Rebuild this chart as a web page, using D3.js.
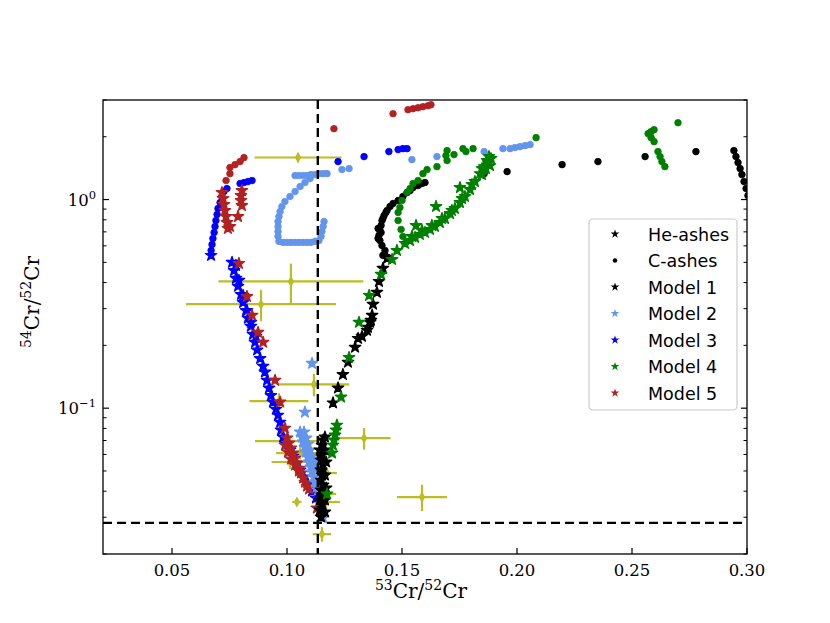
<!DOCTYPE html>
<html>
<head>
<meta charset="utf-8">
<script src="https://cdn.jsdelivr.net/npm/d3@7"></script>
<style>
  body { margin: 0; background: #fff; }
  svg { display: block; }
</style>
</head>
<body>
<script>
// Axis ticks
const xTicks = [0.05, 0.10, 0.15, 0.20, 0.25, 0.30];
const yMajorTicks = [0.1, 1];
const yMajorLabels = ["\u22121", "0"];

// Solar ratios (dashed reference lines)
const solar53 = 0.1134;
const solar54 = 0.0282;

// Model 1 (black)
const model1He = [
  [0.1148,0.0301],[0.1143,0.0325],[0.1152,0.0343],[0.1143,0.0363],[0.1152,0.0384],[0.1148,0.0405],
  [0.1157,0.0428],[0.1148,0.0452],[0.1152,0.0478],[0.1148,0.0505],[0.1157,0.0534],[0.1148,0.0564],
  [0.1152,0.0596],[0.1143,0.0630],[0.1152,0.0665],[0.1157,0.0703],[0.1165,0.0727],
  [0.1165,0.0318],[0.1165,0.0363],[0.1170,0.0414],[0.1165,0.0478],[0.1170,0.0552],[0.1165,0.0630],
  [0.1200,0.106],[0.1222,0.125],[0.1243,0.145],[0.1265,0.166],[0.1296,0.196],[0.1309,0.216],
  [0.1326,0.221],[0.1348,0.236],[0.1352,0.244],[0.1361,0.258],[0.1365,0.264],[0.1370,0.279],
  [0.1374,0.315],[0.1391,0.359],[0.1400,0.405],[0.1417,0.468],[0.1435,0.522]
];
const model1C = [
  [0.1439,0.528],[0.1426,0.570],[0.1417,0.540],[0.1413,0.602],[0.1404,0.636],[0.1396,0.651],
  [0.1400,0.673],[0.1409,0.695],[0.1404,0.711],[0.1396,0.727],[0.1409,0.751],[0.1413,0.793],
  [0.1417,0.811],[0.1422,0.838],[0.1430,0.867],[0.1435,0.886],[0.1448,0.926],[0.1461,0.957],
  [0.1483,0.989],[0.1504,1.034],[0.1522,1.080],[0.1535,1.104],[0.1548,1.141],[0.1570,1.167],
  [0.1587,1.193],[0.1600,1.206],[0.1857,1.331],[0.1957,1.361],[0.2196,1.470],[0.2352,1.520],
  [0.2557,1.606],[0.2778,1.697],[0.2943,1.716],[0.2952,1.606],[0.2961,1.503],[0.2970,1.407],
  [0.2978,1.317],[0.2987,1.219],[0.2996,1.129],[0.3004,1.045]
];

// Model 2 (light blue)
const model2He = [
  [0.1109,0.164],[0.1078,0.0957],
  [0.1057,0.0768],[0.1065,0.0727],[0.1070,0.0688],[0.1078,0.0651],[0.1083,0.0616],[0.1091,0.0583],
  [0.1096,0.0552],[0.1104,0.0522],[0.1109,0.0494],[0.1117,0.0468],[0.1122,0.0442],[0.1130,0.0419],
  [0.1135,0.0405],[0.1143,0.0363],[0.1148,0.0325],[0.1157,0.0298],
  [0.1074,0.0768],[0.1083,0.0719],[0.1091,0.0673],[0.1100,0.0630],[0.1109,0.0589],[0.1117,0.0552],
  [0.1126,0.0516]
];
const model2C = [
  [0.1035,1.303],[0.1052,1.303],[0.1070,1.303],[0.1087,1.303],[0.1104,1.317],[0.1122,1.317],
  [0.1139,1.331],[0.1157,1.331],[0.1174,1.331],
  [0.1100,1.260],[0.1078,1.206],[0.1057,1.154],[0.1035,1.092],[0.1013,1.034],[0.0991,0.978],[0.0978,0.926],
  [0.0970,0.876],[0.0965,0.829],[0.0961,0.785],[0.0961,0.743],[0.0961,0.703],[0.0961,0.665],[0.0965,0.630],
  [0.0983,0.623],[0.1000,0.623],[0.1017,0.623],[0.1035,0.623],[0.1052,0.623],[0.1070,0.623],
  [0.1087,0.623],[0.1104,0.623],[0.1122,0.630],[0.1139,0.636],
  [0.1148,0.665],[0.1152,0.703],[0.1157,0.743],[0.1161,0.785],
  [0.1239,1.392],[0.1270,1.407],[0.1543,1.553],[0.1652,1.606],[0.1857,1.697],[0.1939,1.754],
  [0.1970,1.754],[0.1991,1.774],[0.2013,1.793],[0.2035,1.813],[0.2057,1.833]
];

// Model 3 (blue)
const model3He = [
  [0.0670,0.540],
  [0.0761,0.500],[0.0770,0.457],[0.0778,0.419],[0.0787,0.384],[0.0800,0.351],[0.0809,0.321],
  [0.0822,0.294],[0.0830,0.270],[0.0843,0.247],[0.0852,0.226],[0.0861,0.207],[0.0870,0.190],
  [0.0883,0.173],[0.0896,0.159],[0.0904,0.149],[0.0913,0.136],[0.0922,0.125],[0.0930,0.115],
  [0.0939,0.107],[0.0952,0.0989],[0.0961,0.0926],[0.0970,0.0857],[0.0974,0.0785],[0.0983,0.0727],
  [0.0996,0.0673],[0.1013,0.0630],[0.1026,0.0589],[0.1039,0.0546],[0.1057,0.0505],[0.1074,0.0468],
  [0.1091,0.0433],[0.1109,0.0401],[0.1126,0.0371],
  [0.0778,0.483],[0.0791,0.410],[0.0809,0.347],[0.0826,0.294],[0.0843,0.258],[0.0865,0.221]
];
const model3C = [
  [0.0670,0.570],[0.0674,0.609],[0.0678,0.651],[0.0683,0.695],[0.0687,0.743],[0.0691,0.793],
  [0.0696,0.848],[0.0700,0.906],[0.0709,0.967],[0.0717,1.034],[0.0726,1.092],[0.0739,1.129],
  [0.0796,1.193],[0.0813,1.206],[0.0830,1.219],[0.0848,1.233],
  [0.1222,1.520],[0.1335,1.606],[0.1443,1.697],[0.1483,1.735],[0.1504,1.754],[0.1522,1.754]
];

// Model 4 (green)
const model4He = [
  [0.1174,0.0388],[0.1196,0.0609],[0.1200,0.0665],[0.1204,0.0703],[0.1209,0.0743],[0.1213,0.0785],
  [0.1217,0.0829],[0.1235,0.113],[0.1270,0.175],[0.1313,0.258],[0.1357,0.347],[0.1409,0.438],
  [0.1457,0.516],[0.1478,0.570],[0.1561,0.751],[0.1648,0.926],[0.1752,1.141],
  [0.1513,0.616],[0.1535,0.636],[0.1557,0.658],[0.1578,0.680],[0.1600,0.695],[0.1622,0.719],
  [0.1643,0.743],[0.1665,0.776],[0.1687,0.811],[0.1709,0.857],[0.1730,0.906],[0.1752,0.967],
  [0.1774,1.034],[0.1796,1.116],[0.1817,1.219],[0.1839,1.331],[0.1857,1.438],[0.1870,1.537],
  [0.1878,1.606],[0.1874,1.503],[0.1865,1.407],[0.1848,1.317],
  [0.1543,0.665],[0.1587,0.711],[0.1630,0.751],[0.1674,0.811],[0.1717,0.886],[0.1761,1.011],
  [0.1804,1.180],[0.1848,1.407],[0.1887,1.571],[0.1883,1.454]
];
const model4C = [
  [0.1513,0.616],[0.1504,0.665],[0.1496,0.719],[0.1483,0.793],[0.1483,0.867],[0.1491,0.916],
  [0.1500,0.989],[0.1522,1.080],[0.1535,1.129],[0.1548,1.193],[0.1570,1.233],[0.1591,1.331],
  [0.1609,1.392],[0.1652,1.438],[0.1696,1.537],[0.1691,1.624],[0.1696,1.716],[0.1726,1.642],
  [0.1765,1.754],[0.1778,1.697],[0.1809,1.754],[0.2083,1.980],
  [0.2570,2.069],[0.2583,2.115],[0.2596,2.162],[0.2583,1.980],[0.2596,1.894],
  [0.2613,1.697],[0.2622,1.606],[0.2630,1.520],[0.2643,1.438],[0.2700,2.335]
];

// Model 5 (red)
const model5He = [
  [0.0717,1.080],[0.0722,1.011],[0.0726,0.946],[0.0730,0.886],[0.0735,0.829],[0.0739,0.776],
  [0.0743,0.727],[0.0752,0.743],[0.0804,1.104],[0.0800,1.045],[0.0800,0.989],[0.0804,0.936],
  [0.0787,0.829],[0.0791,0.494],[0.0826,0.343],[0.0848,0.279],[0.0874,0.231],[0.0896,0.207],
  [0.0948,0.136],[0.0970,0.107],[0.0991,0.0802],
  [0.1000,0.0719],[0.1009,0.0680],[0.1017,0.0644],[0.1026,0.0609],[0.1035,0.0576],[0.1043,0.0546],
  [0.1052,0.0516],[0.1061,0.0489],[0.1070,0.0463],[0.1078,0.0442],[0.1087,0.0423],[0.1096,0.0410],
  [0.0991,0.0665],[0.1004,0.0616],[0.1017,0.0570],[0.1035,0.0534],[0.1052,0.0500],[0.1130,0.0332]
];
const model5C = [
  [0.0813,1.588],[0.0796,1.520],[0.0774,1.470],[0.0752,1.423],[0.0752,1.331],[0.0735,1.233],
  [0.1204,2.186],[0.1461,2.579],[0.1526,2.696],[0.1548,2.725],[0.1570,2.755],[0.1591,2.786],
  [0.1613,2.817],[0.1626,2.848]
];

// Presolar grain measurements with errors
const grainX    = [0.1048, 0.1017, 0.0887, 0.1117, 0.0965, 0.1335, 0.1587, 0.1004, 0.1057, 0.1013, 0.1174, 0.1157, 0.1043, 0.1170, 0.1152];
const grainY    = [1.59,   0.405,  0.315,  0.130,  0.108,  0.0718, 0.0375, 0.0695, 0.0609, 0.0552, 0.0489, 0.0388, 0.0355, 0.0355, 0.0249];
const grainXErr = [0.0189, 0.0315, 0.0326, 0.0154, 0.0128, 0.0115, 0.0109, 0.0143, 0.0104, 0.0080, 0.0043, 0.0057, 0.0020, 0.0060, 0.0040];
const grainYErr = [0.085,  0.088,  0.054,  0.016,  0.010,  0.0085, 0.0054, 0.006,  0.004,  0.004,  0.003,  0.0025, 0.001,  0.002,  0.002];

// Legend
const legendLabels = ["He-ashes", "C-ashes", "Model 1", "Model 2", "Model 3", "Model 4", "Model 5"];
const legendColors = ["black", "black", "black", "cornflowerblue", "blue", "green", "firebrick"];
const legendShapes = ["star", "dot", "star", "star", "star", "star", "star"];

// Layout
const margin = {top: 100, left: 103};
const width = 644, height = 454;

const svg = d3.select("body").append("svg")
    .attr("width", 830)
    .attr("height", 623);

const g = svg.append("g")
    .attr("transform", `translate(${margin.left},${margin.top})`);

const x = d3.scaleLinear().domain([0.02, 0.30]).range([0, width]);
const y = d3.scaleLog().domain([0.02, 3.0]).range([height, 0]);

svg.append("defs").append("clipPath").attr("id", "plotClip")
  .append("rect").attr("width", width).attr("height", height);

const plot = g.append("g").attr("clip-path", "url(#plotClip)");

// Grain error bars
const grainColor = "#bcbd22";
const grains = grainX.map((v, i) => ({x: v, y: grainY[i], xe: grainXErr[i], ye: grainYErr[i]}));
plot.selectAll(".xerr").data(grains).enter().append("line")
    .attr("x1", d => x(d.x - d.xe)).attr("x2", d => x(d.x + d.xe))
    .attr("y1", d => y(d.y)).attr("y2", d => y(d.y))
    .attr("stroke", grainColor).attr("stroke-width", 2.2);
plot.selectAll(".yerr").data(grains).enter().append("line")
    .attr("x1", d => x(d.x)).attr("x2", d => x(d.x))
    .attr("y1", d => y(d.y - d.ye)).attr("y2", d => y(d.y + d.ye))
    .attr("stroke", grainColor).attr("stroke-width", 2.2);
plot.selectAll(".grain").data(grains).enter().append("path")
    .attr("d", d3.symbol(d3.symbolDiamond, 36))
    .attr("transform", d => `translate(${x(d.x)},${y(d.y)})`)
    .attr("fill", grainColor);

// Model points (stars = He-ashes, dots = C-ashes), with a thin edge like matplotlib markers
const starPath = d3.symbol(d3.symbolStar, 40)();
function drawStars(data, color) {
  plot.append("g").selectAll("path").data(data).enter().append("path")
      .attr("d", starPath)
      .attr("transform", d => `translate(${x(d[0])},${y(d[1])})`)
      .attr("fill", color)
      .attr("stroke", color).attr("stroke-width", 1.3).attr("stroke-linejoin", "round");
}
function drawDots(data, color) {
  plot.append("g").selectAll("circle").data(data).enter().append("circle")
      .attr("cx", d => x(d[0])).attr("cy", d => y(d[1]))
      .attr("r", 3.3)
      .attr("fill", color)
      .attr("stroke", color).attr("stroke-width", 0.8);
}

drawStars(model3He, "blue");        drawDots(model3C, "blue");
drawStars(model5He, "firebrick");   drawDots(model5C, "firebrick");
drawStars(model2He, "cornflowerblue"); drawDots(model2C, "cornflowerblue");
drawStars(model1He, "black");       drawDots(model1C, "black");
drawStars(model4He, "green");       drawDots(model4C, "green");

// Solar reference lines
plot.append("line")
    .attr("x1", x(solar53)).attr("x2", x(solar53))
    .attr("y1", 0).attr("y2", height)
    .attr("stroke", "black").attr("stroke-width", 2.4).attr("stroke-dasharray", "9,5");
plot.append("line")
    .attr("x1", 0).attr("x2", width)
    .attr("y1", y(solar54)).attr("y2", y(solar54))
    .attr("stroke", "black").attr("stroke-width", 2.4).attr("stroke-dasharray", "9,5");

// Frame
g.append("rect")
    .attr("width", width).attr("height", height)
    .attr("fill", "none").attr("stroke", "black").attr("stroke-width", 1.3);

// X ticks (inward) and labels
const serif = "DejaVu Serif, serif";
g.selectAll(".xt").data(xTicks).enter().append("line")
    .attr("x1", d => x(d)).attr("x2", d => x(d))
    .attr("y1", height).attr("y2", height - 6)
    .attr("stroke", "black").attr("stroke-width", 1.2);
g.selectAll(".xl").data(xTicks).enter().append("text")
    .attr("x", d => x(d)).attr("y", height + 22)
    .attr("text-anchor", "middle")
    .attr("font-family", serif).attr("font-size", 16.5)
    .text(d => d3.format(".2f")(d));

// Y ticks on both sides (inward)
const yMinor = y.ticks().filter(t => !yMajorTicks.some(m => Math.abs(m - t) < 1e-9));
[0, width].forEach(side => {
  const dir = side === 0 ? 1 : -1;
  g.selectAll(null).data(yMajorTicks).enter().append("line")
      .attr("x1", side).attr("x2", side + dir * 6)
      .attr("y1", d => y(d)).attr("y2", d => y(d))
      .attr("stroke", "black").attr("stroke-width", 1.2);
  g.selectAll(null).data(yMinor).enter().append("line")
      .attr("x1", side).attr("x2", side + dir * 3.5)
      .attr("y1", d => y(d)).attr("y2", d => y(d))
      .attr("stroke", "black").attr("stroke-width", 1);
});

const yl = g.selectAll(".yl").data(yMajorTicks).enter().append("text")
    .attr("x", -7).attr("y", d => y(d) + 6)
    .attr("text-anchor", "end")
    .attr("font-family", serif).attr("font-size", 16.5);
yl.append("tspan").text("10");
yl.append("tspan").attr("dy", -7).attr("font-size", 11.5).text((d, i) => yMajorLabels[i]);

// Axis labels
const xlab = svg.append("text")
    .attr("x", 421).attr("y", 598)
    .attr("text-anchor", "middle")
    .attr("font-family", serif).attr("font-size", 20);
xlab.append("tspan").attr("font-size", 14).attr("dy", -8).text("53");
xlab.append("tspan").attr("dy", 8).text("Cr/");
xlab.append("tspan").attr("font-size", 14).attr("dy", -8).text("52");
xlab.append("tspan").attr("dy", 8).text("Cr");

const ylab = svg.append("text")
    .attr("transform", "translate(39,302) rotate(-90)")
    .attr("text-anchor", "middle")
    .attr("font-family", serif).attr("font-size", 20);
ylab.append("tspan").attr("font-size", 14).attr("dy", -8).text("54");
ylab.append("tspan").attr("dy", 8).text("Cr/");
ylab.append("tspan").attr("font-size", 14).attr("dy", -8).text("52");
ylab.append("tspan").attr("dy", 8).text("Cr");

// Legend
const legend = svg.append("g").attr("transform", "translate(589,219)");
legend.append("rect")
    .attr("width", 148).attr("height", 191).attr("rx", 4)
    .attr("fill", "white").attr("fill-opacity", 0.8)
    .attr("stroke", "#cccccc").attr("stroke-width", 1.2);
const rows = legend.selectAll(".row").data(legendLabels).enter().append("g")
    .attr("transform", (d, i) => `translate(0,${15 + i * 26.5})`);
rows.append("path")
    .attr("d", (d, i) => legendShapes[i] === "star"
        ? d3.symbol(d3.symbolStar, 24)()
        : d3.symbol(d3.symbolCircle, 16)())
    .attr("transform", "translate(26,0)")
    .attr("fill", (d, i) => legendColors[i]);
rows.append("text")
    .attr("x", 59).attr("y", 6.5)
    .attr("font-family", "DejaVu Sans, sans-serif").attr("font-size", 17.5)
    .text(d => d);
</script>
</body>
</html>
